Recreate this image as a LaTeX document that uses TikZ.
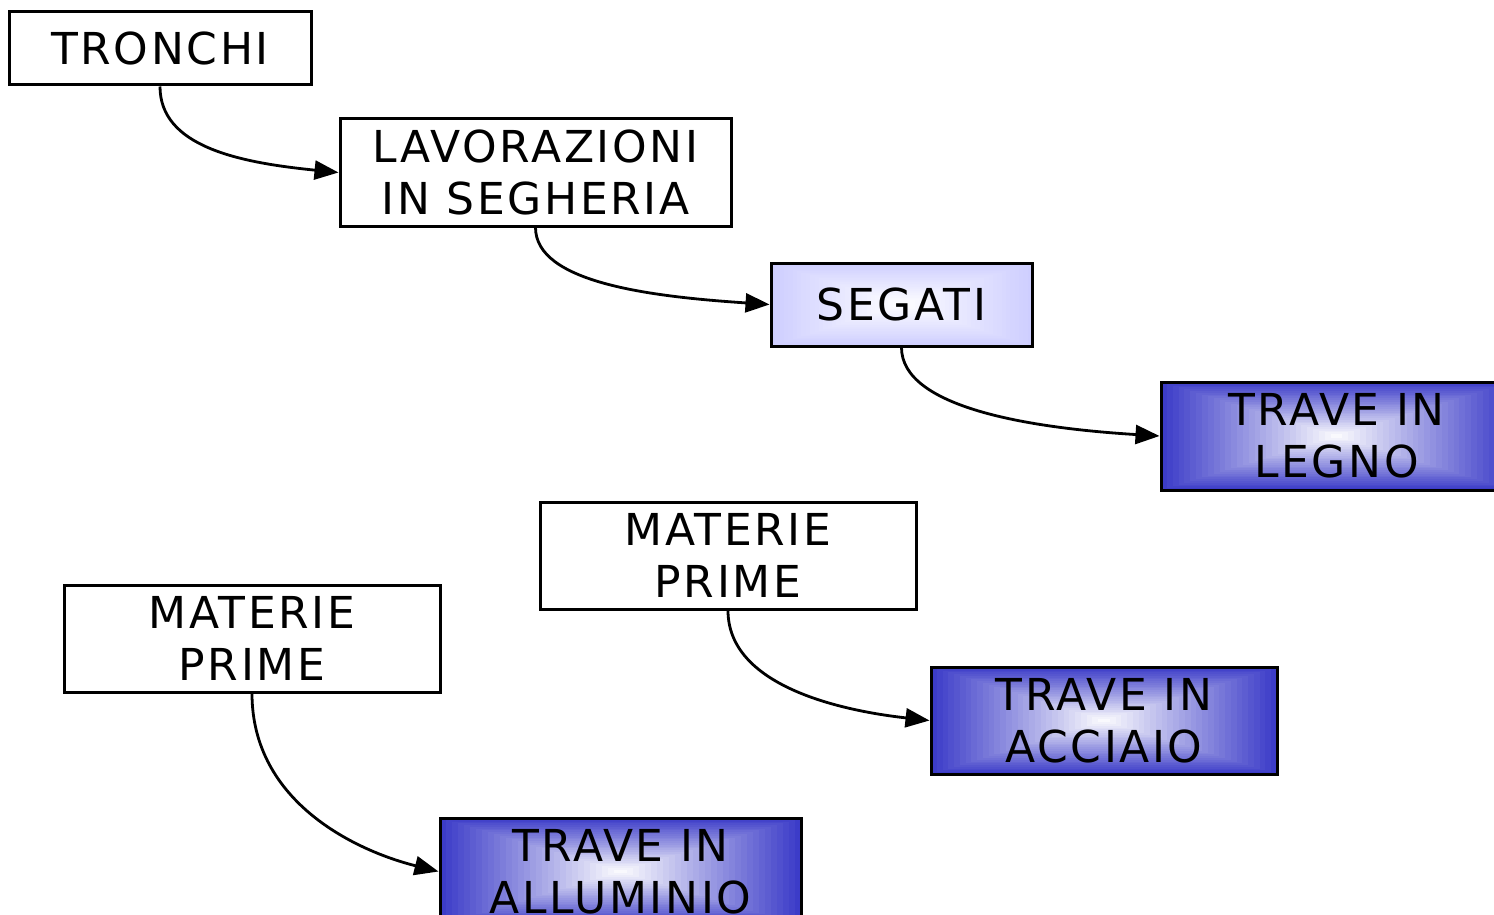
\documentclass[tikz,border=0pt]{standalone}
\usepackage{fontspec}
\newfontfamily\boxfont[LetterSpace=6]{DejaVu Sans}
\usetikzlibrary{calc,arrows.meta}
\definecolor{boxblue}{RGB}{60,60,200}
\definecolor{lavender}{RGB}{206,206,255}
\begin{document}
\begin{tikzpicture}[x=1pt,y=-1pt,
  box/.style={draw=black,line width=3pt,inner sep=0pt,align=center,
    font=\boxfont\fontsize{44}{52}\selectfont,text=black},
  grad/.style={path picture={
    \foreach \i in {0,...,29}{
      \pgfmathsetmacro\p{100*\i/30}
      \pgfmathsetmacro\f{\i/30}
      \fill[white!\p!#1] ($(path picture bounding box.south west)!\f!(path picture bounding box.center)$) rectangle ($(path picture bounding box.north east)!\f!(path picture bounding box.center)$);
    }}},
  conn/.style={line width=2.8pt,-{Triangle[length=24pt,width=19pt]}}]
\useasboundingbox (0,0) rectangle (1494,915);
\clip (0,0) rectangle (1494,915);
\node[box,minimum width=302pt,minimum height=73pt] (tronchi) at (160,48.5) {TRONCHI};
\node[box,minimum width=391pt,minimum height=107pt] (lav) at (535.5,172.5) {LAVORAZIONI\\IN SEGHERIA};
\node[box,grad=lavender,minimum width=261pt,minimum height=83pt] (segati) at (901.5,304.5) {SEGATI};
\node[box,grad=boxblue,minimum width=351pt,minimum height=108pt] (legno) at (1336.5,436) {TRAVE IN\\LEGNO};
\node[box,minimum width=376pt,minimum height=107pt] (mpr) at (728,555.5) {MATERIE\\PRIME};
\node[box,grad=boxblue,minimum width=346pt,minimum height=107pt] (acciaio) at (1104,720.5) {TRAVE IN\\ACCIAIO};
\node[box,minimum width=376pt,minimum height=107pt] (mpl) at (252,638.5) {MATERIE\\PRIME};
\node[box,grad=boxblue,minimum width=361pt,minimum height=107pt] (allum) at (620.5,871.5) {TRAVE IN\\ALLUMINIO};
\draw[conn] (tronchi.south) .. controls +(0,60) and +(-100,-10) .. (lav.west);
\draw[conn] (lav.south) .. controls +(0,55) and +(-120,-8) .. (segati.west);
\draw[conn] (segati.south) .. controls +(0,60) and +(-130,-8) .. (legno.west);
\draw[conn] (mpr.south) .. controls +(0,75) and +(-90,-10) .. (acciaio.west);
\draw[conn] (mpl.south) .. controls +(0,110) and +(-80,-20) .. (allum.west);
\end{tikzpicture}
\end{document}
